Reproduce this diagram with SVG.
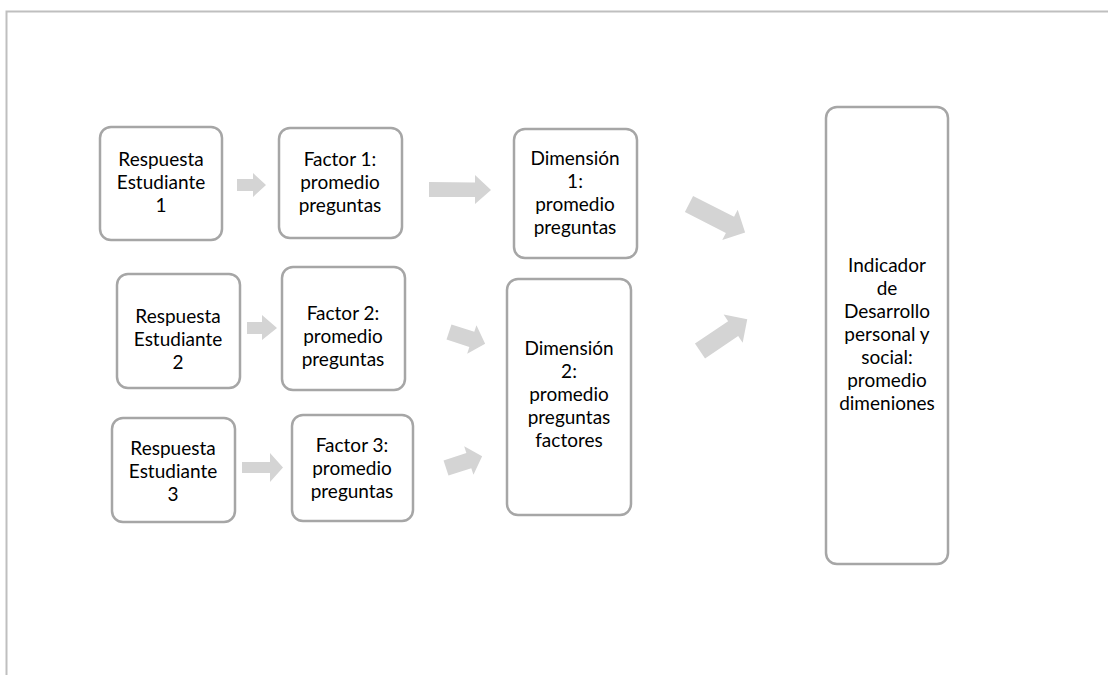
<svg xmlns="http://www.w3.org/2000/svg" width="1108" height="675" viewBox="0 0 1108 675">
<style>
.node{fill:#fff;stroke:#a6a6a6;stroke-width:2.5}
.t{font-family:Lato,"Liberation Sans",sans-serif;font-size:19px;fill:#000;text-anchor:middle}
.arr{fill:#d4d4d4;stroke:none}
</style>
<rect x="0" y="0" width="1108" height="675" fill="#fff"/>
<path d="M6.5 675 V11.5 H1108" fill="none" stroke="#bfbfbf" stroke-width="2"/>

<g id="connectors">
<polygon class="arr" points="237,179 253,179 253,173 266,185 253,197 253,191 237,191"/>
<polygon class="arr" points="429,182 475,182.5 475,175 491,190 475,204 475,197 429,197"/>
<polygon class="arr" points="247,322 262,322 262,315 277,328 262,340 262,334 247,334"/>
<polygon class="arr" points="242,462 270,462 270,453 283,467.5 270,482 270,473 242,473"/>
<path class="arr" d="M0,-8 H24 V-15 L38,0 L24,15 V8 H0 Z" transform="translate(449,332) rotate(18)"/>
<path class="arr" d="M0,-8 H24 V-15 L38,0 L24,15 V8 H0 Z" transform="translate(446,468) rotate(-18)"/>
<path class="arr" d="M0,-9 H46 V-17 L63,0 L46,17 V9 H0 Z" transform="translate(689,204) rotate(27)"/>
<path class="arr" d="M0,-9 H40 V-17 L57,0 L40,17 V9 H0 Z" transform="translate(700,351) rotate(-34)"/>
</g>

<g id="r1"><rect class="node" x="100" y="127" width="122" height="113" rx="11"/>
<text class="t" x="161" y="166">Respuesta</text><text class="t" x="161" y="189">Estudiante</text><text class="t" x="161" y="212">1</text></g>
<g id="f1"><rect class="node" x="279" y="128" width="123" height="110" rx="11"/>
<text class="t" x="340" y="166">Factor 1:</text><text class="t" x="340" y="189">promedio</text><text class="t" x="340" y="212">preguntas</text></g>
<g id="d1"><rect class="node" x="514" y="129" width="123" height="129" rx="11"/>
<text class="t" x="575" y="165">Dimensión</text><text class="t" x="575" y="188">1:</text><text class="t" x="575" y="211">promedio</text><text class="t" x="575" y="234">preguntas</text></g>
<g id="r2"><rect class="node" x="117" y="274" width="123" height="114" rx="11"/>
<text class="t" x="178" y="323">Respuesta</text><text class="t" x="178" y="346">Estudiante</text><text class="t" x="178" y="369">2</text></g>
<g id="f2"><rect class="node" x="282" y="267" width="123" height="123" rx="11"/>
<text class="t" x="343" y="320">Factor 2:</text><text class="t" x="343" y="343">promedio</text><text class="t" x="343" y="366">preguntas</text></g>
<g id="d2"><rect class="node" x="507" y="279" width="124" height="236" rx="11"/>
<text class="t" x="569" y="355">Dimensión</text><text class="t" x="569" y="378">2:</text><text class="t" x="569" y="401">promedio</text><text class="t" x="569" y="424">preguntas</text><text class="t" x="569" y="447">factores</text></g>
<g id="r3"><rect class="node" x="112" y="418" width="123" height="104" rx="11"/>
<text class="t" x="173" y="455">Respuesta</text><text class="t" x="173" y="478">Estudiante</text><text class="t" x="173" y="501">3</text></g>
<g id="f3"><rect class="node" x="292" y="415" width="121" height="106" rx="11"/>
<text class="t" x="352" y="452">Factor 3:</text><text class="t" x="352" y="475">promedio</text><text class="t" x="352" y="498">preguntas</text></g>
<g id="ind"><rect class="node" x="826" y="107" width="122" height="457" rx="11"/>
<text class="t" x="887" y="272">Indicador</text><text class="t" x="887" y="295">de</text><text class="t" x="887" y="318">Desarrollo</text><text class="t" x="887" y="341">personal y</text><text class="t" x="887" y="364">social:</text><text class="t" x="887" y="387">promedio</text><text class="t" x="887" y="410">dimeniones</text></g>
</svg>
